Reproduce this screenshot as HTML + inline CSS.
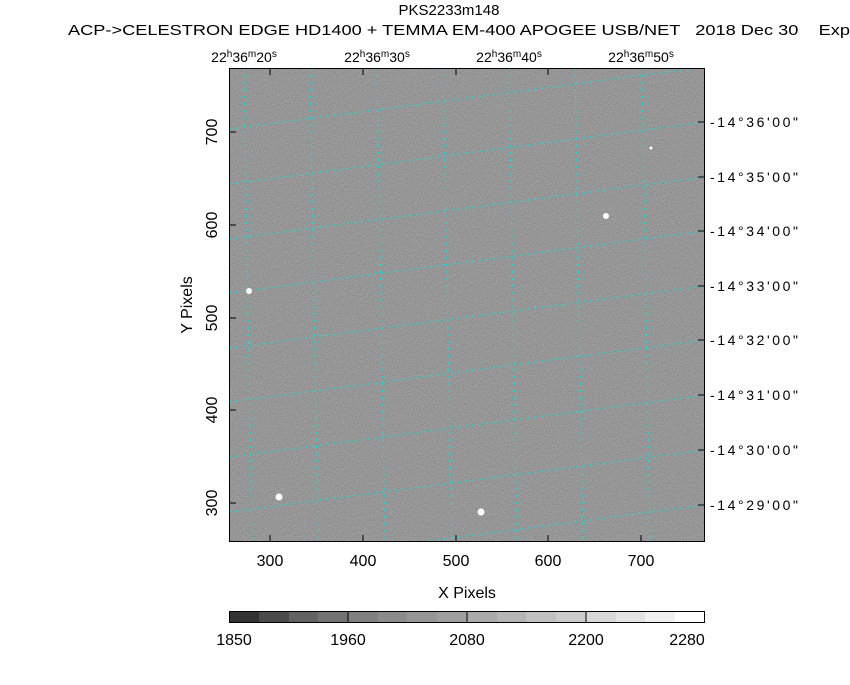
<!DOCTYPE html>
<html><head><style>
body{margin:0;background:#fff;width:850px;height:680px;overflow:hidden;font-family:"Liberation Sans",sans-serif}
</style></head><body>
<svg width="850" height="680" xmlns="http://www.w3.org/2000/svg" font-family="Liberation Sans, sans-serif">
<defs>
<filter id="g" x="0" y="0" width="100%" height="100%">
<feTurbulence type="fractalNoise" baseFrequency="0.9" numOctaves="2" seed="7" result="t"/>
<feColorMatrix in="t" type="matrix" values="0.9 0 0 0 0.08  0.9 0 0 0 0.08  0.9 0 0 0 0.08  0 0 0 0 1"/>
</filter>
<clipPath id="c"><rect x="229" y="68" width="476" height="474"/></clipPath>
</defs>
<rect x="229" y="68" width="476" height="474" filter="url(#g)"/>
<rect x="229" y="68" width="476" height="474" fill="#747474" opacity="0.55"/>
<g clip-path="url(#c)" stroke="#00e5e5" stroke-width="1.2" stroke-dasharray="2,5" fill="none">
<line x1="244" y1="68" x2="252" y2="542"/>
<line x1="310" y1="68" x2="318" y2="542"/>
<line x1="377" y1="68" x2="385" y2="542"/>
<line x1="443" y1="68" x2="452" y2="542"/>
<line x1="509" y1="68" x2="517" y2="542"/>
<line x1="575" y1="68" x2="583" y2="542"/>
<line x1="642" y1="68" x2="650" y2="542"/>
<line x1="229" y1="129" x2="705" y2="67"/>
<line x1="229" y1="184" x2="705" y2="122"/>
<line x1="229" y1="239" x2="705" y2="177"/>
<line x1="229" y1="293" x2="705" y2="231"/>
<line x1="229" y1="348" x2="705" y2="286"/>
<line x1="229" y1="402" x2="705" y2="340"/>
<line x1="229" y1="457" x2="705" y2="395"/>
<line x1="229" y1="512" x2="705" y2="450"/>
<line x1="229" y1="567" x2="705" y2="505"/>
</g>
<g fill="#fff">
<circle cx="249" cy="291" r="3"/><circle cx="279" cy="497" r="3.5"/><circle cx="481" cy="512" r="3.5"/><circle cx="606" cy="216" r="3"/><circle cx="651" cy="148" r="1.5"/>
</g>
<rect x="229.5" y="68.5" width="475" height="473" fill="none" stroke="#000"/>
<g stroke="#000">
<line x1="270" y1="542" x2="270" y2="535"/><line x1="363" y1="542" x2="363" y2="535"/><line x1="456" y1="542" x2="456" y2="535"/><line x1="548" y1="542" x2="548" y2="535"/><line x1="641" y1="542" x2="641" y2="535"/>
<line x1="270" y1="68" x2="270" y2="75"/><line x1="363" y1="68" x2="363" y2="75"/><line x1="456" y1="68" x2="456" y2="75"/><line x1="548" y1="68" x2="548" y2="75"/>
<line x1="229" y1="503" x2="236" y2="503"/><line x1="229" y1="410" x2="236" y2="410"/><line x1="229" y1="318" x2="236" y2="318"/><line x1="229" y1="225" x2="236" y2="225"/><line x1="229" y1="132" x2="236" y2="132"/>
<line x1="705" y1="122" x2="698" y2="122"/><line x1="705" y1="177" x2="698" y2="177"/><line x1="705" y1="231" x2="698" y2="231"/><line x1="705" y1="286" x2="698" y2="286"/><line x1="705" y1="340" x2="698" y2="340"/><line x1="705" y1="395" x2="698" y2="395"/><line x1="705" y1="450" x2="698" y2="450"/><line x1="705" y1="505" x2="698" y2="505"/>
</g>
<g font-size="15" fill="#000">
<text x="449" y="15" text-anchor="middle">PKS2233m148</text>
<text x="68" y="35" xml:space="preserve" textLength="782" lengthAdjust="spacingAndGlyphs">ACP-&gt;CELESTRON EDGE HD1400 + TEMMA EM-400 APOGEE USB/NET   2018 Dec 30    Exp</text>
</g>
<g font-size="14" text-anchor="middle">
<text x="244" y="62">22<tspan font-size="10" dy="-5">h</tspan><tspan dy="5">36</tspan><tspan font-size="10" dy="-5">m</tspan><tspan dy="5">20</tspan><tspan font-size="10" dy="-5">s</tspan></text>
<text x="377" y="62">22<tspan font-size="10" dy="-5">h</tspan><tspan dy="5">36</tspan><tspan font-size="10" dy="-5">m</tspan><tspan dy="5">30</tspan><tspan font-size="10" dy="-5">s</tspan></text>
<text x="509" y="62">22<tspan font-size="10" dy="-5">h</tspan><tspan dy="5">36</tspan><tspan font-size="10" dy="-5">m</tspan><tspan dy="5">40</tspan><tspan font-size="10" dy="-5">s</tspan></text>
<text x="641" y="62">22<tspan font-size="10" dy="-5">h</tspan><tspan dy="5">36</tspan><tspan font-size="10" dy="-5">m</tspan><tspan dy="5">50</tspan><tspan font-size="10" dy="-5">s</tspan></text>
</g>
<g font-size="14">
<text x="710" y="127" textLength="88">-14°36'00"</text><text x="710" y="182" textLength="88">-14°35'00"</text><text x="710" y="236" textLength="88">-14°34'00"</text><text x="710" y="291" textLength="88">-14°33'00"</text><text x="710" y="345" textLength="88">-14°32'00"</text><text x="710" y="400" textLength="88">-14°31'00"</text><text x="710" y="455" textLength="88">-14°30'00"</text><text x="710" y="510" textLength="88">-14°29'00"</text>
</g>
<g font-size="16" text-anchor="middle">
<text x="270" y="566">300</text><text x="363" y="566">400</text><text x="456" y="566">500</text><text x="548" y="566">600</text><text x="641" y="566">700</text>
<text x="467" y="598">X Pixels</text>
<text transform="translate(192,305) rotate(-90)">Y Pixels</text>
<text transform="translate(217,503) rotate(-90)">300</text><text transform="translate(217,410) rotate(-90)">400</text><text transform="translate(217,318) rotate(-90)">500</text><text transform="translate(217,225) rotate(-90)">600</text><text transform="translate(217,132) rotate(-90)">700</text>
<text x="234" y="645">1850</text><text x="348" y="645">1960</text><text x="467" y="645">2080</text><text x="586" y="645">2200</text><text x="687" y="645">2280</text>
</g>
<g>
<rect x="229" y="611" width="30" height="12" fill="#333"/><rect x="259" y="611" width="30" height="12" fill="#4b4b4b"/><rect x="289" y="611" width="29" height="12" fill="#636363"/><rect x="318" y="611" width="30" height="12" fill="#737373"/>
<rect x="348" y="611" width="30" height="12" fill="#808080"/><rect x="378" y="611" width="29" height="12" fill="#8b8b8b"/><rect x="407" y="611" width="30" height="12" fill="#969696"/><rect x="437" y="611" width="30" height="12" fill="#a0a0a0"/>
<rect x="467" y="611" width="30" height="12" fill="#aaaaaa"/><rect x="497" y="611" width="29" height="12" fill="#b5b5b5"/><rect x="526" y="611" width="30" height="12" fill="#c1c1c1"/><rect x="556" y="611" width="30" height="12" fill="#cccccc"/>
<rect x="586" y="611" width="30" height="12" fill="#d8d8d8"/><rect x="616" y="611" width="29" height="12" fill="#e4e4e4"/><rect x="645" y="611" width="30" height="12" fill="#f1f1f1"/><rect x="675" y="611" width="30" height="12" fill="#fff"/>
<rect x="229.5" y="611.5" width="475" height="11" fill="none" stroke="#000"/>
<g stroke="#000"><line x1="348" y1="611" x2="348" y2="623"/><line x1="467" y1="611" x2="467" y2="623"/><line x1="586" y1="611" x2="586" y2="623"/></g>
</g>
</svg>
</body></html>
